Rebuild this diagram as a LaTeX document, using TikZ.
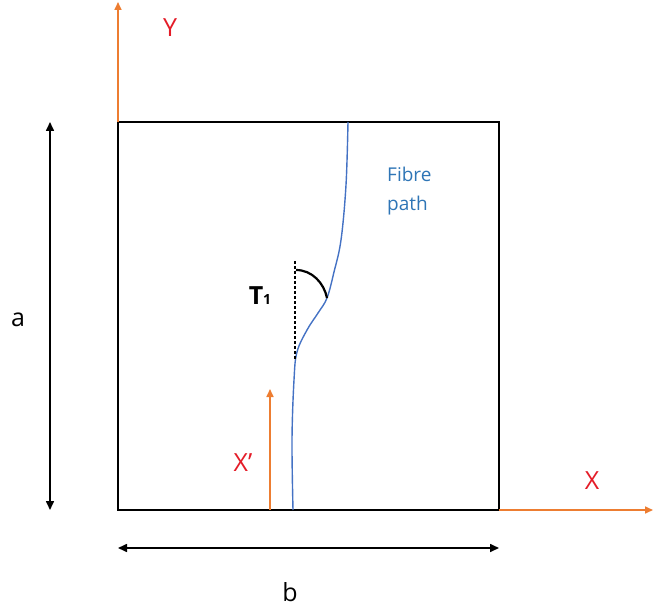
\documentclass[tikz,border=0pt]{standalone}
\usepackage{fontspec}
\setmainfont{Open Sans}
\usetikzlibrary{arrows.meta}
\definecolor{axisorange}{RGB}{237,125,49}
\definecolor{labelred}{RGB}{228,28,40}
\definecolor{fibreblue}{RGB}{68,114,196}
\definecolor{textblue}{RGB}{46,117,182}
\begin{document}
\begin{tikzpicture}[x=1pt,y=-1pt,
  plate/.style={draw=black,line width=1.8pt},
  axisarrow/.style={draw=axisorange,line width=1.6pt,-{Triangle[length=8pt,width=7pt]}},
  dimarrow/.style={draw=black,line width=1.6pt,{Triangle[length=9pt,width=8pt]}-{Triangle[length=9pt,width=8pt]}},
  axislabel/.style={text=labelred,font=\fontsize{25}{28}\selectfont,inner sep=0pt},
  dimlabel/.style={text=black,font=\fontsize{25}{28}\selectfont,inner sep=0pt},
  fibre/.style={draw=fibreblue,line width=1.4pt},
  refline/.style={draw=black,line width=1.4pt,dash pattern=on 3pt off 2pt},
  anglearc/.style={draw=black,line width=2.2pt}
]
\useasboundingbox (0,0) rectangle (653,612);
% plate corners
\coordinate (bl) at (118,510);
\coordinate (br) at (499,510);
\coordinate (tr) at (499,122);
\coordinate (tl) at (118,122);
\draw[plate] (bl) -- (br) -- (tr) -- (tl) -- cycle;
% axes
\coordinate (ytip) at (118,2);
\coordinate (xtip) at (653,510);
\draw[axisarrow] (tl) -- (ytip);
\draw[axisarrow] (br) -- (xtip);
\coordinate (xpbase) at (270,510);
\coordinate (xptip) at (270,389);
\draw[axisarrow] (xpbase) -- (xptip);
\node[axislabel] (ylab) at (170,28) {Y};
\node[axislabel] (xlab) at (592,481) {X};
\node[axislabel] (xplab) at (243,463) {X’};
% dimension arrows
\coordinate (atop) at (50,122);
\coordinate (abot) at (50,510);
\draw[dimarrow] (atop) -- (abot);
\node[dimlabel] (alab) at (18,320) {a};
\coordinate (bleft) at (118,548);
\coordinate (bright) at (499,548);
\draw[dimarrow] (bleft) -- (bright);
\node[dimlabel] (blab) at (290,592) {b};
% fibre path
\draw[fibre] plot[smooth,tension=0.6] coordinates {(293,510) (292,440) (294,380) (297,352) (307,330) (318,313) (327,298) (334,272) (341,240) (346,185) (348,122)};
\node[text=textblue,font=\fontsize{19}{29}\selectfont,align=left,inner sep=0pt,anchor=north west] (fib) at (387,167) {Fibre\\path};
% reference line and angle
\coordinate (dtop) at (295,261);
\coordinate (dbot) at (295,360);
\draw[refline] (dtop) -- (dbot);
\coordinate (arcs) at (296,270);
\coordinate (arce) at (327,298);
\draw[anglearc] (arcs) .. controls (312,270) and (324,283) .. (arce);
\node[inner sep=0pt,anchor=base] (tlab) at (260,305) {\fontsize{25}{28}\selectfont\bfseries T\fontsize{14}{16}\selectfont 1};
\end{tikzpicture}
\end{document}
